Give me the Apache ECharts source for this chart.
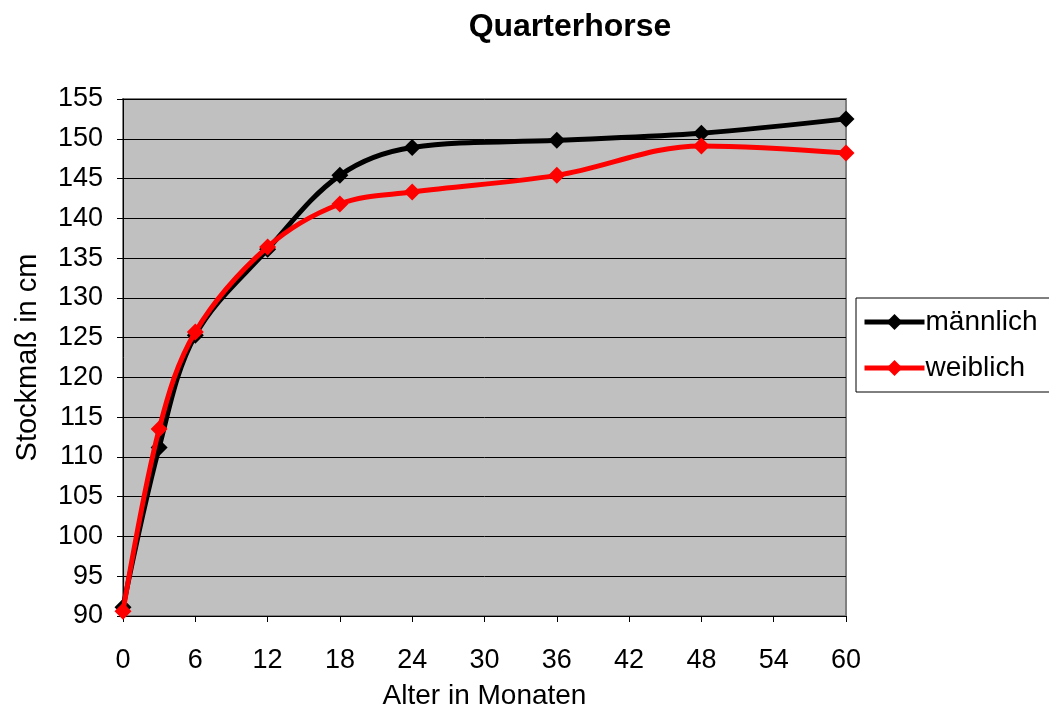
<!DOCTYPE html>
<html><head><meta charset="utf-8">
<script src="https://cdn.jsdelivr.net/npm/echarts@6/dist/echarts.min.js"></script>
<style>html,body{margin:0;padding:0;background:#fff}#c{width:1049px;height:711px}</style>
</head><body><div id="c"></div>
<script>
const ages = [0, 3, 6, 12, 18, 24, 36, 48, 60];
const maennlich = [91.1, 111.2, 125.3, 136.1, 145.4, 148.9, 149.8, 150.7, 152.5];
const weiblich = [90.6, 113.5, 125.7, 136.4, 141.8, 143.3, 145.4, 149.1, 148.2];
const xTicks = [0, 6, 12, 18, 24, 30, 36, 42, 48, 54, 60];

const font = '"Liberation Sans", Arial, sans-serif';
const chart = echarts.init(document.getElementById('c'), null, {renderer: 'canvas'});
function pairs(xs, ys) { return xs.map((x, i) => [x, ys[i]]); }
chart.setOption({
  animation: false,
  backgroundColor: '#fff',
  title: {
    text: 'Quarterhorse', left: 565, top: 6, textAlign: 'center',
    textStyle: {fontFamily: font, fontSize: 32, fontWeight: 'bold', color: '#000'}
  },
  grid: {left: 123, right: 203, top: 99, bottom: 95, show: true,
    outerBoundsMode: 'none', containLabel: false,
    backgroundColor: '#c0c0c0', borderColor: '#808080', borderWidth: 2},
  legend: {
    orient: 'vertical', left: 856, top: 298, width: 200,
    backgroundColor: '#fff', borderColor: '#000', borderWidth: 1,
    padding: [10, 40, 10, 6], itemGap: 18, itemWidth: 60, itemHeight: 20,
    lineStyle: {width: 5},
    textStyle: {fontFamily: font, fontSize: 28, color: '#000', padding: [0, 0, 0, -4]},
    data: ['männlich', 'weiblich']
  },
  xAxis: {
    type: 'value', min: 0, max: 60, interval: 6,
    name: 'Alter in Monaten', nameLocation: 'middle', nameGap: 66,
    nameTextStyle: {fontFamily: font, fontSize: 28, color: '#000'},
    axisLine: {show: true, lineStyle: {color: '#000', width: 1}},
    axisTick: {show: true, length: 6, inside: false, lineStyle: {color: '#000'}},
    axisLabel: {fontFamily: font, fontSize: 27, color: '#000', margin: 31,
      formatter: v => xTicks.includes(v) ? String(v) : ''},
    splitLine: {show: false}
  },
  yAxis: {
    type: 'value', min: 90, max: 155, interval: 5,
    name: 'Stockmaß in cm', nameLocation: 'middle', nameGap: 81, nameRotate: 90,
    nameTextStyle: {fontFamily: font, fontSize: 29, color: '#000'},
    axisLine: {show: true, lineStyle: {color: '#000', width: 1}},
    axisTick: {show: true, length: 6, inside: false, lineStyle: {color: '#000'}},
    axisLabel: {fontFamily: font, fontSize: 27, color: '#000', margin: 20},
    splitLine: {show: true, lineStyle: {color: '#000', width: 1}}
  },
  series: [
    {name: 'männlich', type: 'line', data: pairs(ages, maennlich), smooth: 0.35,
      symbol: 'diamond', symbolSize: 17, z: 2,
      lineStyle: {color: '#000', width: 5}, itemStyle: {color: '#000'}},
    {name: 'weiblich', type: 'line', data: pairs(ages, weiblich), smooth: 0.35,
      symbol: 'diamond', symbolSize: 17, z: 3,
      lineStyle: {color: '#ff0000', width: 5}, itemStyle: {color: '#ff0000'}}
  ]
});
</script></body></html>
